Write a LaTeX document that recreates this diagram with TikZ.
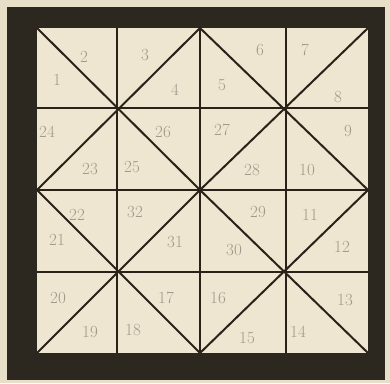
\documentclass[tikz,border=0pt]{standalone}
\usepackage{xcolor}
\usepackage{tikz}
\definecolor{gdPaper}{HTML}{E8DFC8}
\definecolor{gdCell}{HTML}{EFE6D1}
\definecolor{gdFrame}{HTML}{2C271F}
\definecolor{gdInk}{HTML}{2A2219}
\definecolor{gdPencil}{HTML}{A0998A}

\begin{document}
\begin{tikzpicture}[x=1pt,y=-1pt,
    num/.style={text=gdPencil,font=\fontsize{17}{17}\selectfont,inner sep=0pt}]
    \useasboundingbox (0,0) rectangle (390,383);
    \fill[gdPaper] (0,0) rectangle (390,383);
    \fill[gdFrame] (7,7) rectangle (385,380);
    \fill[gdCell] (37,28) rectangle (368,353);
    \begin{scope}[draw=gdInk,line width=2pt]
      % grid
      \foreach \x in {117,200,286} \draw (\x,28) -- (\x,353);
      \foreach \y in {108,190,272} \draw (37,\y) -- (368,\y);
      % crosses, one per 2x2 block
      \draw (37,28) -- (200,190);  \draw (200,28) -- (37,190);
      \draw (200,28) -- (368,190); \draw (368,28) -- (200,190);
      \draw (37,190) -- (200,353); \draw (200,190) -- (37,353);
      \draw (200,190) -- (368,353); \draw (368,190) -- (200,353);
    \end{scope}
    % triangle numbers
    \foreach \n/\x/\y in {1/57/80, 2/84/57, 3/145/55, 4/175/90,
                          5/222/85, 6/260/50, 7/305/50, 8/338/97,
                          9/348/131, 10/307/170, 11/310/215, 12/342/247,
                          13/345/300, 14/298/332, 15/247/338, 16/218/298,
                          17/166/298, 18/133/330, 19/90/332, 20/58/298,
                          21/57/240, 22/77/215, 23/90/169, 24/47/132,
                          25/132/167, 26/163/132, 27/222/130, 28/252/170,
                          29/258/212, 30/234/250, 31/175/242, 32/135/212}
      \node[num] (n\n) at (\x,\y) {\n};
  \end{tikzpicture}
\end{document}
